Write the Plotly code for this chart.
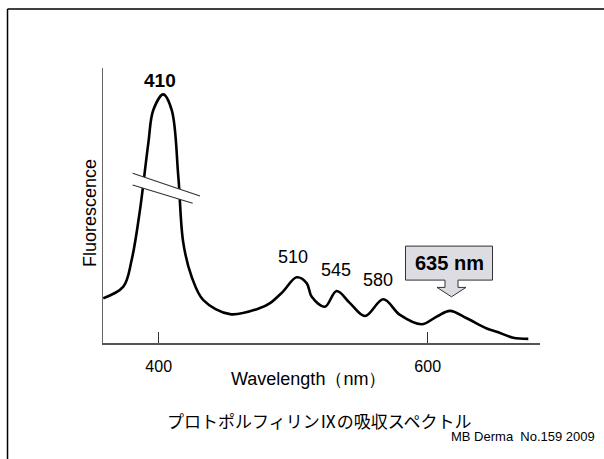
import plotly.graph_objects as go

# ---- data (wavelength nm, relative fluorescence) ----
wavelength = [358.8, 373.7, 379.9, 386.1, 392.3, 396.0, 403.4, 409.7, 414.6, 418.3,
              424.5, 433.2, 453.0, 475.3, 482.8, 492.4, 502.6, 510.0, 513.8, 523.6,
              532.3, 542.2, 553.4, 567.0, 579.4, 595.5, 606.7, 616.6, 629.0, 643.9,
              651.3, 663.6, 674.8]
fluorescence = [16.3, 20.5, 30.2, 48.4, 72.7, 84.7, 90.4, 84.7, 60.5, 36.4,
                24.1, 15.6, 10.5, 12.7, 14.5, 18.7, 23.9, 21.8, 16.8, 13.2,
                18.9, 14.5, 9.8, 15.9, 10.2, 6.8, 9.6, 11.7, 9.0, 5.3,
                4.1, 1.9, 1.5]

tick_vals = [400, 600]
tick_text = ["400", "600"]

peak_labels = ["410", "510", "545", "580"]
peak_label_x = [401.0, 500.1, 531.8, 563.3]
peak_label_y = [95.6, 31.4, 26.5, 22.9]
peak_label_bold = [True, False, False, False]

callout_text = "635 nm"
callout_x = 617.7
callout_y = 16.8

# axis break marks (two parallel slashes)
break_upper = [(380.67, 61.71), (430.71, 53.45)]
break_lower = [(380.67, 57.45), (425.28, 50.80)]

x_range = [358.6, 683.5]
y_range = [0, 100]

FONT = "Liberation Sans, Arial, sans-serif"
CJK = "Noto Sans CJK JP, sans-serif"

fig = go.Figure()
fig.add_trace(go.Scatter(
    x=wavelength, y=fluorescence, mode="lines",
    line=dict(color="black", width=2.6, shape="spline", smoothing=1.0),
    hoverinfo="skip", showlegend=False,
))

shapes = []
# white gap for the break
(ax1, ay1), (ax2, ay2) = break_upper
(bx1, by1), (bx2, by2) = break_lower
shapes.append(dict(type="path", xref="x", yref="y", layer="above",
                   path=f"M {ax1},{ay1} L {ax2},{ay2} L {bx2},{by2} L {bx1},{by1} Z",
                   fillcolor="white", line=dict(width=0)))
for (p1, p2) in (break_upper, break_lower):
    shapes.append(dict(type="line", xref="x", yref="y", layer="above",
                       x0=p1[0], y0=p1[1], x1=p2[0], y1=p2[1],
                       line=dict(color="#333333", width=1.2)))

# callout box with block arrow, sized in pixels, anchored at arrow tip
shapes.append(dict(type="path", xref="x", yref="y", layer="above",
                   xsizemode="pixel", ysizemode="pixel",
                   xanchor=callout_x, yanchor=callout_y,
                   path=("M -46,50.7 L 41,50.7 L 41,16.7 L 6.5,16.7 L 6.5,9.4 L 14.5,9.4 "
                         "L 0,0 L -14.5,9.4 L -6.5,9.4 L -6.5,16.7 L -46,16.7 Z"),
                   fillcolor="#dcdce2", line=dict(color="#333333", width=1)))

# outer frame (left and top lines)
shapes.append(dict(type="line", xref="paper", yref="paper",
                   x0=-0.2185, x1=-0.2185, y0=1.2145, y1=-0.43,
                   line=dict(color="black", width=1.5)))
shapes.append(dict(type="line", xref="paper", yref="paper",
                   x0=-0.2185, x1=1.2, y0=1.2145, y1=1.2145,
                   line=dict(color="black", width=1.5)))

annotations = []
for t, x, y, b in zip(peak_labels, peak_label_x, peak_label_y, peak_label_bold):
    annotations.append(dict(
        x=x, y=y, xref="x", yref="y", showarrow=False,
        text=f"<b>{t}</b>" if b else t,
        font=dict(family=FONT, size=19 if b else 18, color="black"),
        xanchor="center", yanchor="middle"))

annotations.append(dict(
    x=callout_x, y=callout_y, xref="x", yref="y", showarrow=False,
    xshift=-2.3, yshift=33.7, text=f"<b>{callout_text}</b>",
    font=dict(family=FONT, size=20, color="black"),
    xanchor="center", yanchor="middle"))

# axis titles
annotations.append(dict(
    x=(308 - 103) / 437, y=(343 - 379) / 275, xref="paper", yref="paper",
    showarrow=False, text="Wavelength（nm）",
    font=dict(family=FONT, size=18, color="black"),
    xanchor="center", yanchor="middle"))
annotations.append(dict(
    x=(89.5 - 103) / 437, y=(343 - 213.5) / 275, xref="paper", yref="paper",
    showarrow=False, text="Fluorescence", textangle=-90,
    font=dict(family=FONT, size=18, color="black"),
    xanchor="center", yanchor="middle"))

# caption and source
annotations.append(dict(
    x=(319 - 103) / 437, y=(343 - 420.5) / 275, xref="paper", yref="paper",
    showarrow=False, text="プロトポルフィリンⅨの吸収スペクトル",
    font=dict(family=CJK, size=17, color="black"),
    xanchor="center", yanchor="middle"))
annotations.append(dict(
    x=(597 - 103) / 437, y=(343 - 436) / 275, xref="paper", yref="paper",
    showarrow=False, text="MB Derma&nbsp;&nbsp;No.159 2009",
    font=dict(family=FONT, size=13, color="black"),
    xanchor="right", yanchor="middle"))

fig.update_layout(
    width=604, height=459,
    margin=dict(l=103, r=64, t=68, b=116),
    paper_bgcolor="white", plot_bgcolor="white",
    shapes=shapes, annotations=annotations,
    xaxis=dict(range=x_range, showgrid=False, zeroline=False,
               showline=True, linecolor="#555555", linewidth=1.5,
               tickmode="array", tickvals=tick_vals, ticktext=tick_text,
               ticks="inside", ticklen=11, tickwidth=1, tickcolor="#333333",
               ticklabelstandoff=8,
               tickfont=dict(family=FONT, size=16, color="black")),
    yaxis=dict(range=y_range, showgrid=False, zeroline=False,
               showline=True, linecolor="#666666", linewidth=1,
               showticklabels=False, ticks=""),
)

fig.write_html("out.html", config={"displayModeBar": False},
               post_script="document.body.style.margin='0';document.body.style.overflow='hidden';")
